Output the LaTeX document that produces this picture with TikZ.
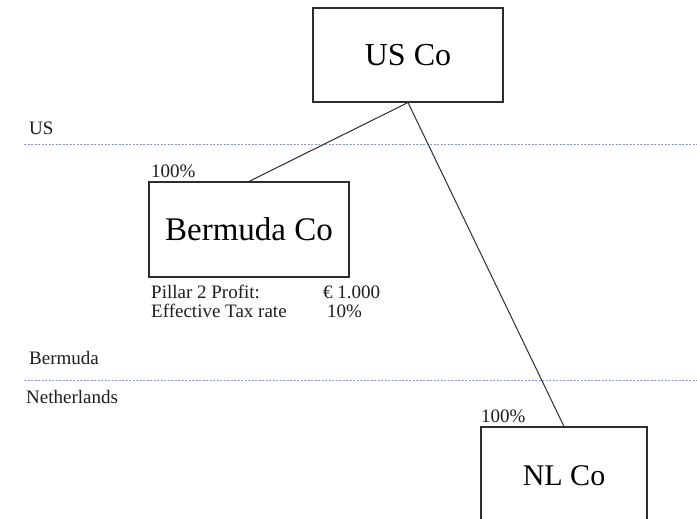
\documentclass[tikz,border=0pt]{standalone}
\usepackage{fontspec}
\setmainfont{Liberation Serif}
\definecolor{boxline}{RGB}{45,45,45}
\definecolor{bordercol}{RGB}{140,150,205}
\definecolor{labeltext}{RGB}{30,30,30}
\begin{document}
\begin{tikzpicture}[x=1pt,y=-1pt,
  entity/.style={draw=boxline, line width=1.1pt, fill=white, inner sep=0pt,
                 font=\fontsize{30}{36}\selectfont, text=black},
  lbl/.style={anchor=base west, inner sep=0pt,
              font=\fontsize{19}{22}\selectfont, text=labeltext},
  border/.style={draw=bordercol, line width=0.7pt, dash pattern=on 2pt off 1.5pt},
  link/.style={draw=boxline, line width=1pt}]
\clip (0,0) rectangle (697,519);
\fill[white] (0,0) rectangle (697,519);

% jurisdiction borders
\draw[border] (24,144) -- (697,144);
\draw[border] (24,380) -- (697,380);

% jurisdiction names
\node[lbl] (uslbl) at (29,135) {US};
\node[lbl] (bmlbl) at (29,364) {Bermuda};
\node[lbl] (nllbl) at (26,403) {Netherlands};

% entities
\node[entity, minimum width=190pt, minimum height=94pt,
      font=\fontsize{32}{36}\selectfont] (us) at (408,55) {US Co};
\node[entity, minimum width=200pt, minimum height=95pt,
      font=\fontsize{33}{38}\selectfont] (bm) at (249,229.5) {Bermuda Co};
\node[entity, minimum width=166pt, minimum height=98pt] (nl) at (564,476) {NL Co};

% ownership links
\draw[link] (us.south) -- (bm.north);
\draw[link] (us.south) -- (nl.north);

% ownership shares
\node[lbl] (bmshare) at (151,177) {100\%};
\node[lbl] (nlshare) at (481,422) {100\%};

% Pillar 2 figures for Bermuda Co
\node[lbl] (p2lbl) at (151,298) {Pillar 2 Profit:};
\node[lbl] (p2val) at (323,298) {€ 1.000};
\node[lbl] (etrlbl) at (151,317) {Effective Tax rate};
\node[lbl] (etrval) at (327,317) {10\%};
\end{tikzpicture}
\end{document}
